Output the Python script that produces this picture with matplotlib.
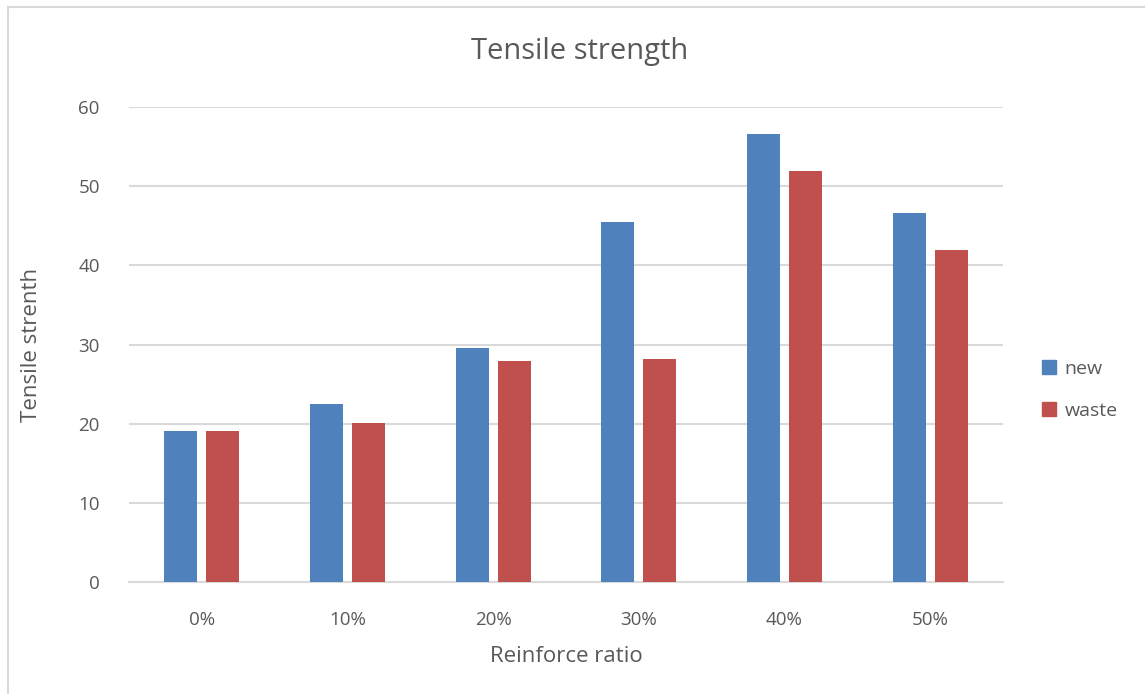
import numpy as np
import matplotlib
matplotlib.use("Agg")
import matplotlib.pyplot as plt
from matplotlib.lines import Line2D

ratios = ["0%", "10%", "20%", "30%", "40%", "50%"]
new_vals = [19.0, 22.5, 29.6, 45.5, 56.6, 46.6]
waste_vals = [19.0, 20.1, 27.9, 28.2, 52.0, 42.0]

BLUE = "#4F81BD"
RED = "#C0504D"
TEXT = "#595959"
GRID = "#D9D9D9"

plt.rcParams["font.family"] = ["Open Sans", "DejaVu Sans"]

fig = plt.figure(figsize=(11.45, 6.94), dpi=100)
ax = fig.add_axes([129 / 1145, 1 - 581.7 / 694, (1003 - 129) / 1145, (581.7 - 107.3) / 694])

x = np.arange(len(ratios))
w = 0.228
gap = 0.06
ax.bar(x - (w + gap) / 2, new_vals, w, color=BLUE, label="new", zorder=3)
ax.bar(x + (w + gap) / 2, waste_vals, w, color=RED, label="waste", zorder=3)

ax.set_xlim(-0.5, len(ratios) - 0.5)
ax.set_ylim(0, 60)
ax.set_yticks(range(0, 61, 10))
ax.set_xticks(x)
ax.set_xticklabels(ratios)
ax.yaxis.grid(True, color=GRID, linewidth=1.5, zorder=0)
ax.set_axisbelow(True)
for side in ["top", "right", "left"]:
    ax.spines[side].set_visible(False)
ax.spines["bottom"].set_color(GRID)
ax.spines["bottom"].set_linewidth(1.5)
ax.tick_params(axis="both", length=0, colors=TEXT, labelsize=13.5)
ax.tick_params(axis="y", pad=21)
ax.tick_params(axis="x", pad=21)

# title is centred on the whole chart area, not the plot area
fig.text(580 / 1145, 1 - 52 / 694, "Tensile strength", fontsize=21, color=TEXT,
         ha="center", va="center")
ax.set_xlabel("Reinforce ratio", fontsize=16, color=TEXT, labelpad=12)
ax.set_ylabel("Tensile strenth", fontsize=16, color=TEXT, labelpad=26)

handles = [
    Line2D([], [], marker="s", linestyle="none", markersize=10, color=BLUE),
    Line2D([], [], marker="s", linestyle="none", markersize=10, color=RED),
]
fig.legend(handles, ["new", "waste"], loc="center left",
           bbox_to_anchor=(1022 / 1145, 1 - 390 / 694), frameon=False,
           fontsize=14, labelcolor=TEXT, handletextpad=0.3,
           labelspacing=1.25, handlelength=1.0)

# chart frame
fig.add_artist(Line2D([8 / 1145, 1], [1 - 7 / 694, 1 - 7 / 694], color="#D9D9D9", linewidth=1.5))
fig.add_artist(Line2D([8 / 1145, 8 / 1145], [0, 1 - 7 / 694], color="#D9D9D9", linewidth=1.5))

fig.savefig("out.png", dpi=100, facecolor="white")
